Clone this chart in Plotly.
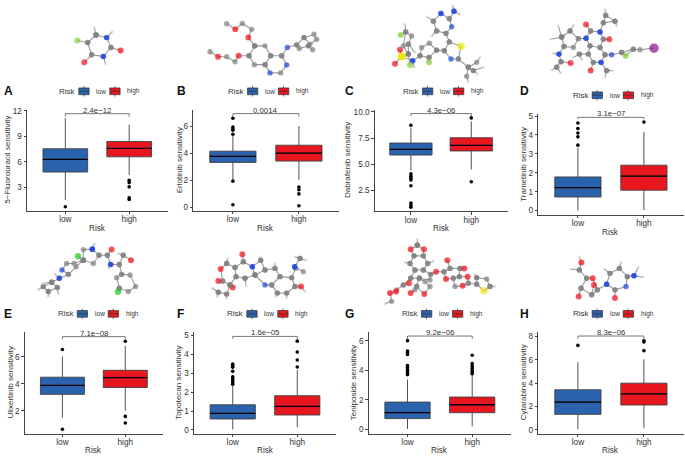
import plotly.graph_objects as go

W, H = 685, 457
FONT = "Liberation Sans"
BLUE, RED = "#2B62AD", "#E8171F"

# ---- data, panels A..H ----
panel_letters = ["A", "B", "C", "D", "E", "F", "G", "H"]
y_titles = ["5\u2212Fluorouracil sensitivity", "Erlotinib sensitivity", "Dabrafenib sensitivity",
            "Trametinib sensitivity", "Ulixertinib sensitivity", "Topotecan sensitivity",
            "Teniposide sensitivity", "Cytarabine sensitivity"]
x_title = "Risk"
p_labels = ["2.4e\u221212", "0.0014", "4.3e\u221206", "3.1e\u221207",
            "7.1e\u221208", "1.6e\u221205", "9.2e\u221206", "8.3e\u221206"]
categories = ["low", "high"]
tick_vals = [[3, 6, 9, 12], [0, 2, 4, 6], [2.5, 5, 7.5, 10], [0, 1, 2, 3, 4, 5],
             [2, 4, 6], [0, 1, 2, 3, 4, 5], [0, 2, 4, 6], [0, 2, 4, 6, 8]]
tick_text = [["3", "6", "9", "12"], ["0", "2", "4", "6"], ["2.5", "5.0", "7.5", "10.0"],
             ["0", "1", "2", "3", "4", "5"], ["2", "4", "6"], ["0", "1", "2", "3", "4", "5"],
             ["0", "2", "4", "6"], ["0", "2", "4", "6", "8"]]
y_ranges = [[0.29, 12.1], [-0.24, 7.2], [0.5, 10.2], [-0.23, 5.12],
            [0.32, 7.83], [-0.19, 5.18], [-0.29, 6.58], [-0.31, 8.37]]

low_whisker_lo = [1.53, 2.04, 4.4, 0.0, 1.49, 0.03, 0.02, 0.06]
low_q1 = [4.82, 3.32, 5.88, 0.72, 3.22, 0.58, 0.72, 1.33]
low_median = [6.3, 3.76, 6.42, 1.22, 3.88, 0.88, 1.12, 2.38]
low_q3 = [7.54, 4.15, 7.03, 1.78, 4.49, 1.33, 1.84, 3.43]
low_whisker_hi = [11.15, 5.3, 8.5, 3.32, 6.02, 2.33, 3.37, 5.8]
low_outliers = [[0.75], [6.58, 5.93, 5.8, 5.7, 5.4, 1.94, 0.2],
                [8.73, 4.08, 3.86, 3.67, 3.5, 2.95, 1.3, 1.1, 0.9],
                [4.63, 4.34, 4.1, 3.9, 3.46], [6.54, 0.63],
                [3.49, 3.42, 3.32, 3.1, 2.81, 2.7, 2.6, 2.51, 2.42],
                [6.0, 5.3, 5.2, 5.06, 4.31, 4.18, 4.04, 3.91, 3.78, 3.69], [7.23]]

high_whisker_lo = [4.47, 2.05, 4.5, 0.03, 2.02, 0.14, 0.2, 0.14]
high_q1 = [6.6, 3.42, 6.27, 1.08, 3.73, 0.79, 1.12, 2.13]
high_median = [7.58, 4.0, 6.8, 1.82, 4.46, 1.25, 1.66, 3.09]
high_q3 = [8.39, 4.59, 7.53, 2.4, 5.0, 1.81, 2.18, 4.0]
high_whisker_hi = [10.37, 6.0, 9.1, 4.16, 6.8, 3.16, 3.66, 6.04]
high_outliers = [[3.85, 3.58, 3.08, 1.8, 1.6], [1.5, 1.3, 1.0, 0.12], [9.43, 3.33], [4.68],
                 [7.15, 1.59, 1.1], [4.7, 4.12, 3.7, 3.33],
                 [5.01, 4.45, 4.29, 4.13, 3.98, 3.84, 3.75], [7.63, 7.52, 6.78]]

bracket_top = [11.65, 6.92, 9.84, 4.93, 7.49, 4.95, 6.31, 8.03]
bracket_tip = [11.3, 6.7, 9.6, 4.83, 7.3, 4.82, 6.11, 7.8]

# ---- layout in reference pixels: left, right, top, bottom of every panel ----
frames = [(27, 167.5, 108, 210), (193.3, 338.5, 108, 210), (374.7, 507.5, 108, 210.7),
          (538.3, 683.5, 112, 214.3), (24.7, 163, 332.7, 435.3), (194, 336, 332.7, 435.3),
          (368.7, 511, 332.7, 435.3), (538.3, 683.5, 332.7, 435.3)]
legend_anchor = [(57.3, 89.3), (226, 89.3), (401, 89.3), (570.7, 93.3),
                 (55.7, 314.3), (225.3, 314.3), (400, 314.3), (570.7, 314.3)]
letter_pos = [(1.5, 89.3), (175, 89.3), (343, 89.3), (518, 89.3),
              (1.5, 314), (175, 314), (343, 314), (518, 314)]
y_title_x = [7.5, 179, 347.5, 523.5, 10.7, 179, 353.5, 523.5]
x_title_y = [227.7, 227.7, 227.7, 231.7, 452.3, 452.3, 452.3, 452.3]

# ---- molecule sketches: chains of atoms (x, y, element) ----
mol_a = [[(288,97,"C"),(320,105,"N"),(333,135,"C"),(310,162,"N"),(275,157,"C"),(263,120,"C"),(288,97,"C")],
         [(232,114,"F"),(263,120,"C")], [(362,144,"O"),(333,135,"C")], [(253,180,"O"),(275,157,"C")],
         [(283,74,"H"),(288,97,"C")], [(337,87,"H"),(320,105,"N")], [(316,184,"H"),(310,162,"N")]]
mol_b = [[(680,63,"C"),(706,80,"O"),(727,62,"C"),(755,80,"C"),(745,105,"O"),(764,130,"C")],
         [(764,130,"C"),(795,130,"C"),(812,160,"C"),(795,187,"C"),(763,187,"C"),(747,160,"C"),(764,130,"C")],
         [(747,160,"C"),(716,160,"O"),(705,178,"C"),(680,163,"C"),(654,163,"O"),(630,148,"C")],
         [(812,160,"C"),(845,160,"C"),(860,188,"N"),(842,212,"C"),(810,212,"N"),(795,187,"C")],
         [(845,160,"C"),(862,135,"N"),(890,127,"C"),(912,105,"C"),(942,95,"C"),(950,110,"C"),(925,130,"C"),(898,138,"C"),(890,127,"C")],
         [(925,130,"C"),(938,142,"C")], [(912,105,"C"),(930,125,"C")]]
mol_c = [[(303,32,"N"),(328,48,"C"),(335,72,"N"),(318,92,"C"),(290,85,"C"),(280,55,"C"),(303,32,"N")],
         [(338,8,"H"),(342,25,"N"),(360,35,"H")], [(328,48,"C"),(342,25,"N")],
         [(262,42,"H"),(280,55,"C")], [(275,100,"H"),(290,85,"C")],
         [(318,92,"C"),(328,118,"C"),(363,131,"S"),(355,170,"C"),(333,170,"N"),(313,145,"C"),(328,118,"C")],
         [(355,170,"C"),(385,195,"C"),(410,180,"C"),(420,165,"H")], [(385,195,"C"),(400,205,"C"),(430,195,"H")],
         [(385,195,"C"),(380,222,"C"),(385,238,"H")], [(400,205,"C"),(412,215,"H")],
         [(313,145,"C"),(290,143,"C"),(268,122,"C"),(245,135,"C"),(240,160,"C"),(267,165,"C"),(290,143,"C")],
         [(267,165,"C"),(267,180,"F")], [(240,160,"C"),(218,175,"N"),(222,195,"H")],
         [(218,175,"N"),(185,162,"S"),(180,142,"O")], [(185,162,"S"),(165,184,"O")],
         [(185,162,"S"),(205,155,"C"),(190,130,"C"),(197,88,"C"),(215,100,"C"),(205,125,"C"),(205,155,"C")],
         [(182,97,"F"),(197,88,"C"),(195,65,"H")], [(205,155,"C"),(210,188,"F")], [(205,125,"C"),(225,150,"H")]]
mol_d = [[(635,203,"H"),(650,195,"C"),(663,178,"C"),(692,182,"O")], [(662,212,"H"),(650,195,"C")],
         [(663,178,"C"),(657,155,"N"),(640,153,"H")], [(657,155,"N"),(672,132,"C"),(665,103,"C"),(690,85,"C"),(715,108,"C"),(700,135,"C"),(672,132,"C")],
         [(655,70,"H"),(665,103,"C")], [(700,68,"H"),(690,85,"C")], [(632,110,"H"),(665,103,"C")],
         [(715,108,"C"),(738,107,"N"),(752,85,"C"),(780,88,"N"),(790,110,"C"),(780,135,"C"),(750,130,"C"),(738,107,"N")],
         [(752,85,"C"),(738,65,"O")], [(790,110,"C"),(808,110,"O")],
         [(780,88,"N"),(790,60,"C"),(797,38,"C"),(825,55,"C"),(790,60,"C")], [(797,38,"C"),(795,20,"H")], [(825,55,"C"),(830,70,"H")],
         [(780,135,"C"),(795,157,"C"),(783,180,"N"),(760,180,"C"),(745,155,"C"),(750,130,"C")],
         [(760,180,"C"),(752,205,"O")], [(783,180,"N"),(800,205,"C"),(818,205,"H")], [(800,205,"C"),(795,225,"H")],
         [(745,155,"C"),(718,155,"C"),(700,165,"H")], [(718,155,"C"),(725,172,"H")],
         [(795,157,"C"),(815,157,"N"),(845,150,"C"),(880,140,"C"),(900,142,"C"),(942,137,"I")],
         [(845,150,"C"),(857,160,"F"),(880,140,"C")]]
mol_e = [[(277,42,"N"),(250,43,"C"),(250,75,"C"),(280,85,"C"),(297,60,"C"),(277,42,"N")], [(283,25,"H"),(277,42,"N")],
         [(234,63,"Cl"),(250,75,"C")], [(297,60,"C"),(322,60,"C"),(335,43,"O")],
         [(322,60,"C"),(332,88,"N"),(358,88,"C"),(370,60,"C"),(393,75,"O")], [(332,88,"N"),(325,100,"H")], [(370,60,"C"),(355,55,"H")],
         [(358,88,"C"),(365,118,"C"),(390,120,"C"),(407,155,"C"),(385,170,"C"),(358,160,"C"),(350,128,"C"),(365,118,"C")],
         [(358,160,"C"),(354,171,"Cl")],
         [(250,75,"C"),(222,85,"C"),(200,85,"C"),(186,105,"N"),(205,118,"C"),(228,95,"C"),(250,75,"C")],
         [(205,118,"C"),(178,130,"N"),(155,142,"C"),(130,155,"C"),(145,170,"C"),(172,158,"C"),(155,142,"C")],
         [(178,130,"N"),(165,118,"H")], [(130,155,"C"),(115,165,"H")], [(155,142,"C"),(130,145,"H")],
         [(172,158,"C"),(175,178,"H")], [(145,170,"C"),(145,185,"H")]]
mol_f = [[(727,57,"O"),(730,80,"C"),(757,95,"N"),(765,120,"C"),(735,130,"C"),(708,125,"C"),(705,97,"C"),(730,80,"C")],
         [(757,95,"N"),(782,75,"C"),(795,105,"C"),(765,120,"C")], [(782,75,"C"),(780,65,"H")],
         [(795,105,"C"),(825,100,"C"),(840,125,"C"),(815,150,"C"),(795,150,"N"),(765,120,"C")], [(825,100,"C"),(825,85,"H")],
         [(840,125,"C"),(875,128,"C"),(885,155,"C"),(860,175,"C"),(832,175,"C"),(815,150,"C")],
         [(885,155,"C"),(903,155,"O"),(915,170,"H")], [(860,175,"C"),(860,190,"H")], [(832,175,"C"),(828,185,"H")],
         [(875,128,"C"),(887,100,"C"),(884,95,"N"),(900,70,"C"),(918,75,"H")], [(884,95,"N"),(910,110,"C")], [(900,70,"C"),(885,65,"H")],
         [(705,97,"C"),(680,85,"C"),(662,102,"O"),(668,138,"C"),(690,150,"C"),(708,125,"C")],
         [(668,138,"C"),(655,138,"O")], [(690,150,"C"),(698,158,"O")], [(680,85,"C"),(683,70,"H")], [(735,130,"C"),(738,152,"H")],
         [(690,150,"C"),(680,178,"C"),(655,172,"C"),(637,160,"H")], [(655,172,"C"),(652,185,"H")], [(680,178,"C"),(680,190,"H")]]
mol_g = [[(232,30,"C"),(212,42,"O"),(222,62,"C"),(250,62,"C"),(252,42,"O"),(232,30,"C")], [(232,30,"C"),(232,12,"H")],
         [(222,62,"C"),(210,85,"C"),(225,105,"C"),(250,105,"C"),(263,85,"C"),(250,62,"C")], [(263,85,"C"),(280,78,"H")], [(210,85,"C"),(195,82,"H")],
         [(225,105,"C"),(212,130,"C"),(238,130,"C"),(270,135,"C"),(272,118,"C"),(250,105,"C")],
         [(272,118,"C"),(288,110,"O"),(312,110,"C"),(330,100,"C"),(360,100,"C"),(358,125,"C"),(340,130,"C"),(318,132,"O"),(312,110,"C")],
         [(322,75,"O"),(330,100,"C")], [(360,100,"C"),(373,100,"O")],
         [(358,125,"C"),(383,125,"O"),(385,145,"C"),(368,153,"O"),(345,155,"C"),(340,130,"C")],
         [(385,145,"C"),(410,148,"C"),(410,128,"C"),(440,132,"C"),(450,155,"C"),(432,168,"S"),(410,148,"C")], [(410,128,"C"),(405,118,"H")], [(450,155,"C"),(465,155,"H")],
         [(238,130,"C"),(230,155,"C"),(225,165,"C"),(212,175,"O")], [(238,130,"C"),(255,140,"C"),(270,155,"C"),(253,178,"O"),(230,155,"C")],
         [(212,130,"C"),(190,150,"C"),(170,165,"C"),(168,170,"O"),(150,175,"O"),(155,200,"C"),(135,207,"H")], [(190,150,"C"),(207,145,"O")]]
mol_h = [[(718,65,"H"),(724,82,"O"),(718,105,"C"),(740,130,"C"),(758,130,"O"),(772,165,"C"),(755,180,"C"),(723,160,"C"),(740,130,"C")],
         [(718,105,"C"),(692,102,"H")], [(723,160,"C"),(716,185,"O")], [(755,180,"C"),(762,150,"O")],
         [(772,165,"C"),(800,148,"N"),(810,115,"C"),(838,100,"C"),(862,125,"C"),(858,155,"N"),(825,165,"C"),(800,148,"N")],
         [(825,165,"C"),(825,190,"O")], [(862,125,"C"),(882,122,"N"),(895,97,"H")], [(882,122,"N"),(910,127,"H")],
         [(810,115,"C"),(793,102,"H")], [(838,100,"C"),(843,82,"H")]]
molecules = [mol_a, mol_b, mol_c, mol_d, mol_e, mol_f, mol_g, mol_h]
mol_origin = [(0, 0), (0, 0), (340, 0), (340, 0), (0, 235), (0, 235), (340, 235), (340, 235)]
atom_color = {"C": "#808080", "O": "#F00C14", "N": "#2046E0", "F": "#80D038", "Cl": "#20CC20",
              "S": "#EEE610", "I": "#8A148A", "H": "#D4D4D4"}
atom_size = {"C": 5.4, "O": 6, "N": 5.4, "F": 6, "Cl": 6.5, "S": 7.5, "I": 9.5, "H": 2.8}

fig = go.Figure()
layout = dict(width=W, height=H, margin=dict(l=0, r=0, t=0, b=0), paper_bgcolor="white",
              plot_bgcolor="rgba(0,0,0,0)", showlegend=False, font=dict(family=FONT, color="#333333"),
              annotations=[], shapes=[])


def px(x):
    return x / W


def py(y):
    return 1 - y / H


def paper_text(x, y, text, size, anchor="left", color="#333333", bold=False, angle=0):
    layout["annotations"].append(dict(
        xref="paper", yref="paper", x=px(x), y=py(y), text=f"<b>{text}</b>" if bold else text,
        showarrow=False, xanchor=anchor, yanchor="middle", textangle=angle,
        font=dict(size=size, family=FONT, color=color)))


def key(x, y, fill):
    ln = dict(color="#333333", width=0.7)
    for kind, kw in (
        ("line", dict(x0=px(x + 5), x1=px(x + 5), y0=py(y - 5.3), y1=py(y + 5.3))),
        ("rect", dict(x0=px(x), x1=px(x + 10.3), y0=py(y - 3.4), y1=py(y + 3.4), fillcolor=fill)),
        ("line", dict(x0=px(x), x1=px(x + 10.3), y0=py(y), y1=py(y))),
    ):
        layout["shapes"].append(dict(type=kind, xref="paper", yref="paper", line=ln, **kw))


BOX_W = 0.7
for i in range(8):
    n = i + 1
    xa, ya = f"x{n}", f"y{n}"
    l, r, t, b = frames[i]
    axis_common = dict(showline=True, linecolor="#444444", linewidth=1, ticks="outside", ticklen=2.5,
                       tickwidth=0.8, tickcolor="#444444", showgrid=False, zeroline=False,
                       tickfont=dict(size=8.2, family=FONT, color="#333333"))
    layout[f"xaxis{n}"] = dict(domain=[px(l), px(r)], range=[-0.6, 1.6], anchor=ya, tickmode="array",
                               tickvals=[0, 1], ticktext=categories, ticklabelstandoff=-2, **axis_common)
    layout[f"yaxis{n}"] = dict(domain=[py(b), py(t)], range=y_ranges[i], anchor=xa, tickmode="array",
                               tickvals=tick_vals[i], ticktext=tick_text[i], **axis_common)
    stats = [(low_whisker_lo, low_q1, low_median, low_q3, low_whisker_hi, low_outliers, BLUE),
             (high_whisker_lo, high_q1, high_median, high_q3, high_whisker_hi, high_outliers, RED)]
    for c, (wl, q1, med, q3, wh, out, col) in enumerate(stats):
        fig.add_trace(go.Box(x=[c], q1=[q1[i]], median=[med[i]], q3=[q3[i]], lowerfence=[wl[i]],
                             upperfence=[wh[i]], width=BOX_W, whiskerwidth=0, boxpoints=False,
                             fillcolor=col, line=dict(color="#404040", width=0.9), name=categories[c],
                             xaxis=xa, yaxis=ya, hoverinfo="skip"))
        fig.add_trace(go.Scatter(x=[c - BOX_W / 2, c + BOX_W / 2], y=[med[i], med[i]], mode="lines",
                                 line=dict(color="black", width=1.3), xaxis=xa, yaxis=ya, hoverinfo="skip"))
        fig.add_trace(go.Scatter(x=[c] * len(out[i]), y=out[i], mode="markers",
                                 marker=dict(color="black", size=3.6), xaxis=xa, yaxis=ya, hoverinfo="skip"))
    fig.add_trace(go.Scatter(x=[0, 0, 1, 1], y=[bracket_tip[i], bracket_top[i], bracket_top[i], bracket_tip[i]],
                             mode="lines", line=dict(color="#555555", width=0.8), xaxis=xa, yaxis=ya, hoverinfo="skip"))
    layout["annotations"].append(dict(xref=xa, yref=ya, x=0.5, y=bracket_top[i], text=p_labels[i], showarrow=False,
                                      xanchor="center", yanchor="bottom", yshift=-3,
                                      font=dict(size=7.8, family=FONT, color="#333333")))
    paper_text((l + r) / 2, x_title_y[i], x_title, 8.2, anchor="center")
    paper_text(y_title_x[i], (t + b) / 2, y_titles[i], 8.05, anchor="center", angle=-90)
    ax, ay = legend_anchor[i]
    paper_text(ax, ay, "Risk", 8.0)
    key(ax + 21.5, ay, BLUE)
    paper_text(ax + 37, ay, categories[0], 6.6)
    key(ax + 52.5, ay, RED)
    paper_text(ax + 68, ay, categories[1], 6.6)
    lx, ly = letter_pos[i]
    paper_text(lx, ly, panel_letters[i], 12, color="#111111", bold=True)

# molecules: an invisible full-page axis in 3x picture units
layout["xaxis9"] = dict(domain=[0, 1], range=[0, 3 * W], visible=False, anchor="y9", fixedrange=True)
layout["yaxis9"] = dict(domain=[0, 1], range=[3 * H, 0], visible=False, anchor="x9", fixedrange=True)
for mol, (ox, oy) in zip(molecules, mol_origin):
    xs, ys, cols, sizes = [], [], [], []
    for chain in mol:
        for (ax_, ay_, el) in chain:
            xs.append(ax_ + 3 * ox)
            ys.append(ay_ + 3 * oy)
            cols.append(atom_color[el])
            sizes.append(atom_size[el])
        xs.append(None)
        ys.append(None)
        cols.append("#000000")
        sizes.append(0)
    fig.add_trace(go.Scatter(x=xs, y=ys, mode="lines+markers", connectgaps=False,
                             line=dict(color="#9A9A9A", width=1.1),
                             marker=dict(color=cols, size=sizes, line=dict(width=0)),
                             xaxis="x9", yaxis="y9", hoverinfo="skip"))

fig.update_layout(**layout)
fig.write_html("out.html", config=dict(displayModeBar=False),
               post_script="document.body.style.margin='0';document.body.style.overflow='hidden';")
